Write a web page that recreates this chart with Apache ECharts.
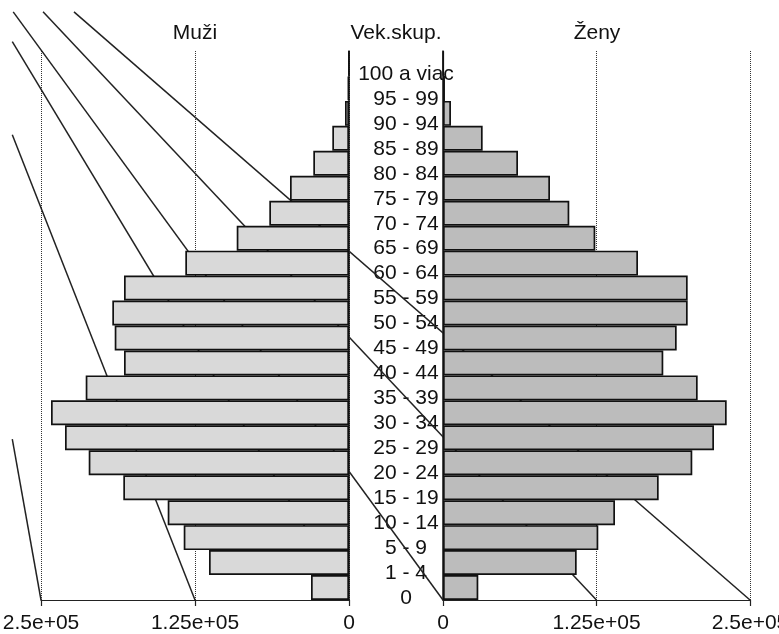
<!DOCTYPE html>
<html>
<head>
<meta charset="utf-8">
<script src="https://cdn.jsdelivr.net/npm/echarts@6/dist/echarts.min.js"></script>
<style>html,body{margin:0;padding:0;background:#fff}#c{width:779px;height:634px}</style>
</head>
<body>
<div id="c"></div>
<script>
// ---- data (top row first) ----
const ageGroups = ['100 a viac','95 - 99','90 - 94','85 - 89','80 - 84','75 - 79','70 - 74','65 - 69','60 - 64','55 - 59','50 - 54','45 - 49','40 - 44','35 - 39','30 - 34','25 - 29','20 - 24','15 - 19','10 - 14','5 - 9','1 - 4','0'];
const muzi = [150, 1000, 3250, 13550, 28980, 47890, 64690, 91150, 132870, 182630, 192130, 190180, 182630, 213720, 241880, 230520, 211280, 183200, 147160, 134170, 113640, 30840];
const zeny = [400, 1600, 6500, 32300, 61070, 87130, 102850, 124020, 158790, 199260, 199260, 190300, 179390, 207400, 231020, 220680, 203010, 175640, 140060, 126460, 108870, 28750];
const xTickValues = [0, 125000, 250000];
const xTickLabels = ['0', '1.25e+05', '2.5e+05'];
const panelTitles = ['Muži', 'Vek.skup.', 'Ženy'];
// guide lines: [population start, rows from bottom start, population end, rows end]
const guideLinesLeft = [
  [273300, 6.45, 250000, 0],
  [273300, 18.64, 125000, 0],
  [273300, 22.38, 0, 0]
];
const guideLinesRight = [
  [-350000, 23.57, 0, 0],
  [-325700, 23.57, 125000, 0],
  [-300500, 23.57, 250000, 0]
];

const FONT = '"Liberation Sans", Arial, Helvetica, sans-serif';
const TXT = '#111';
const chart = echarts.init(document.getElementById('c'), null, {renderer: 'canvas'});

function fmt(v) {
  const i = xTickValues.indexOf(v);
  return i >= 0 ? xTickLabels[i] : '';
}
function xAxisCfg(grid, inverse) {
  return {
    gridIndex: grid, type: 'value', inverse: inverse, position: 'bottom',
    min: 0, max: 250000, interval: 125000,
    axisLine: {show: true, onZero: false, lineStyle: {color: '#222', width: 1.2}},
    axisTick: {show: true, length: 6, lineStyle: {color: '#222', width: 1.2}},
    axisLabel: {formatter: fmt, fontSize: 21, fontFamily: FONT, color: TXT, margin: 13},
    splitLine: {show: true, lineStyle: {type: 'dotted', color: '#333', width: 1}}
  };
}
function guideSeries(xi, yi, data) {
  return {
    type: 'custom', xAxisIndex: xi, yAxisIndex: yi, data: data, z: 1, silent: true, clip: false,
    encode: {x: [0, 2], y: [1, 3]},
    renderItem: function (params, api) {
      const p1 = api.coord([api.value(0), api.value(1)]);
      const p2 = api.coord([api.value(2), api.value(3)]);
      return {type: 'line', shape: {x1: p1[0], y1: p1[1], x2: p2[0], y2: p2[1]},
              style: {stroke: '#222', lineWidth: 1.5}};
    }
  };
}
const series = [
  {type: 'bar', xAxisIndex: 0, yAxisIndex: 0, data: muzi, barCategoryGap: '0%', z: 2,
   itemStyle: {color: '#d9d9d9', borderColor: '#111', borderWidth: 1.7}},
  {type: 'bar', xAxisIndex: 1, yAxisIndex: 2, data: zeny, barCategoryGap: '0%', z: 2,
   itemStyle: {color: '#bcbcbc', borderColor: '#111', borderWidth: 1.7}},
  guideSeries(0, 1, guideLinesLeft),
  guideSeries(1, 3, guideLinesRight)
];

const titleX = [195, 396, 597];
chart.setOption({
  animation: false,
  backgroundColor: '#fff',
  grid: [
    {left: 41, right: 430, top: 51, bottom: 34, containLabel: false, outerBoundsMode: 'none'},
    {left: 443, right: 29, top: 51, bottom: 34, containLabel: false, outerBoundsMode: 'none'}
  ],
  xAxis: [xAxisCfg(0, true), xAxisCfg(1, false)],
  yAxis: [
    {gridIndex: 0, type: 'category', data: ageGroups, inverse: true, position: 'right',
     axisLine: {show: true, lineStyle: {color: '#111', width: 1.5}},
     axisTick: {show: false}, axisLabel: {show: false}, splitLine: {show: false}},
    {gridIndex: 0, type: 'value', min: 0, max: 22, show: false},
    {gridIndex: 1, type: 'category', data: ageGroups, inverse: true, position: 'left',
     axisLine: {show: true, lineStyle: {color: '#111', width: 1.5}},
     axisTick: {show: false}, splitLine: {show: false},
     axisLabel: {show: true, interval: 0, align: 'center', verticalAlign: 'top', lineHeight: 21,
                 margin: 37, fontSize: 21, fontFamily: FONT, color: TXT}},
    {gridIndex: 1, type: 'value', min: 0, max: 22, show: false}
  ],
  graphic: panelTitles.map((t, i) => ({
    type: 'text', x: titleX[i], y: 33, silent: true,
    style: {text: t, fontSize: 21, fontFamily: FONT, fill: TXT, align: 'center', verticalAlign: 'middle'}
  })),
  series: series
});
</script>
</body>
</html>
